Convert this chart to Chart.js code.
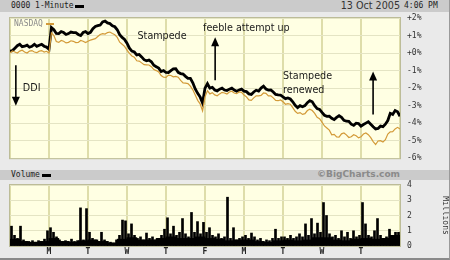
<!DOCTYPE html>
<html>
<head>
<meta charset="utf-8">
<script src="https://cdn.jsdelivr.net/npm/chart.js@4"></script>
<style>
  body { margin: 0; background: #fff; }
  #frame { position: relative; width: 450px; height: 260px; background: #eaeaea; overflow: hidden; }
  .bar { position: absolute; left: 0; width: 450px; background: #cbcbcb; }
  .mono { font-family: "DejaVu Sans Mono", monospace; font-size: 8px; color: #222; position: absolute; white-space: nowrap; }
  .dash { position: absolute; height: 3px; width: 9px; }
  canvas { position: absolute; left: 0; }
  #edge { position: absolute; left: 0; top: 0; width: 449px; height: 258px; border-right: 1px solid #9a9a9a; border-bottom: 2px solid #8a8a8a; pointer-events: none; }
</style>
</head>
<body>
<div id="frame">
  <div class="bar" style="top:0;height:12px"></div>
  <span class="mono" style="left:11px;top:1px">0000 1-Minute</span>
  <div class="dash" style="left:75px;top:5px;background:#000"></div>
  <span style="position:absolute;right:50px;top:0px;font:9.6px 'DejaVu Sans';color:#333">13 Oct 2005</span>
  <span class="mono" style="left:404px;top:1px">4:06 PM</span>

  <div class="bar" style="top:170px;height:10px"></div>
  <span class="mono" style="left:11px;top:170px">Volume</span>
  <div class="dash" style="left:42px;top:174px;background:#000"></div>
  <span style="position:absolute;right:50px;top:169px;font:bold 9px 'DejaVu Sans';color:#8a8a8a">©BigCharts.com</span>

  <canvas id="price" width="450" height="170" style="top:0"></canvas>
  <canvas id="vol" width="450" height="88" style="top:170px"></canvas>
  <div id="edge"></div>
</div>
<script>
"use strict";

const dayLabels = ['M', 'T', 'W', 'T', 'F', 'M', 'T', 'W', 'T'];

// % change, 16 readings per trading day (10 days)
const stockPct = [
    0.11, 0.14, 0.28, 0.42, 0.5, 0.36, 0.39, 0.45, 0.33, 0.38, 0.5, 0.38, 0.44, 0.5, 0.39, 0.34,
    0.22, 1.45, 1.33, 1.12, 1.11, 1.22, 1.17, 1.06, 1.11, 1.2, 1.17, 1.16, 1.06, 1.0, 1.17, 1.22,
    1.11, 1.18, 1.39, 1.52, 1.56, 1.6, 1.78, 1.82, 1.72, 1.68, 1.56, 1.5, 1.33, 1.05, 0.89, 0.78,
    0.56, 0.28, 0.11, 0.06, -0.11, -0.08, -0.22, -0.38, -0.44, -0.4, -0.5, -0.7, -0.78, -0.86, -1.06, -1.0,
    -1.11, -1.12, -1.0, -0.9, -0.89, -1.1, -1.17, -1.2, -1.33, -1.44, -1.44, -1.7, -2.05, -2.3, -2.5, -2.85,
    -2.0, -1.75, -2.0, -1.96, -2.11, -2.16, -2.06, -2.0, -2.11, -2.14, -2.06, -2.0, -2.11, -2.18, -2.11, -2.06,
    -2.17, -2.2, -2.33, -2.36, -2.22, -2.12, -2.17, -2.0, -1.89, -2.05, -2.11, -2.1, -2.22, -2.36, -2.39, -2.4,
    -2.5, -2.6, -2.56, -2.62, -2.78, -2.98, -3.11, -3.0, -3.06, -3.0, -2.83, -2.72, -2.78, -3.0, -3.17, -3.22,
    -3.39, -3.55, -3.61, -3.6, -3.72, -3.8, -3.67, -3.58, -3.67, -3.84, -3.89, -3.9, -4.06, -4.12, -4.0, -4.02,
    -4.17, -4.08, -4.0, -3.92, -4.06, -4.2, -4.33, -4.3, -4.17, -4.2, -4.06, -3.85, -3.44, -3.5, -3.28, -3.35,
    -3.61
];
const nasdaqPct = [
    0.0, 0.12, 0.06, 0.0, 0.11, 0.16, 0.06, 0.0, 0.11, 0.14, 0.06, 0.02, 0.11, 0.14, 0.06, 0.1,
    0.0, 1.15, 1.0, 0.66, 0.61, 0.72, 0.67, 0.58, 0.61, 0.7, 0.67, 0.6, 0.61, 0.72, 0.67, 0.6,
    0.67, 0.74, 0.78, 0.82, 0.94, 1.06, 1.11, 1.08, 1.17, 1.2, 1.11, 1.04, 0.89, 0.62, 0.5, 0.38,
    0.17, -0.02, -0.17, -0.24, -0.44, -0.46, -0.56, -0.66, -0.67, -0.68, -0.78, -0.94, -1.0, -1.08, -1.28, -1.38,
    -1.39, -1.26, -1.28, -1.36, -1.33, -1.38, -1.56, -1.7, -1.72, -1.74, -1.89, -2.1, -2.39, -2.7, -2.9, -3.3,
    -2.5, -2.15, -2.33, -2.26, -2.39, -2.44, -2.33, -2.24, -2.28, -2.34, -2.22, -2.18, -2.28, -2.32, -2.22, -2.24,
    -2.39, -2.5, -2.67, -2.7, -2.56, -2.44, -2.44, -2.42, -2.28, -2.3, -2.44, -2.44, -2.56, -2.7, -2.72, -2.68,
    -2.78, -2.92, -2.89, -2.92, -3.11, -3.32, -3.44, -3.4, -3.5, -3.46, -3.28, -3.2, -3.28, -3.44, -3.67, -3.74,
    -3.94, -4.16, -4.28, -4.4, -4.67, -4.64, -4.78, -4.8, -4.61, -4.56, -4.67, -4.82, -4.78, -4.66, -4.72, -4.84,
    -4.78, -4.62, -4.56, -4.66, -4.83, -5.05, -5.22, -5.02, -5.0, -5.08, -4.94, -4.62, -4.5, -4.48, -4.33, -4.24,
    -4.33
];
// volume in millions: peaks, 13 per day
const volumePeak = [
    1.3, 0.7, 0.5, 1.3, 0.4, 0.3, 0.25, 0.35, 0.25, 0.35, 0.3, 0.45, 1.0,
    1.2, 0.9, 0.6, 0.4, 0.3, 0.35, 0.3, 0.45, 0.3, 0.35, 2.5, 0.4, 2.45,
    0.9, 0.5, 0.4, 0.3, 0.9, 0.4, 0.3, 0.25, 0.2, 0.4, 0.7, 1.7, 1.65,
    0.8, 1.45, 0.7, 0.5, 0.6, 0.4, 0.85, 0.5, 0.6, 0.4, 0.5, 0.7, 1.1,
    1.85, 0.8, 1.3, 0.7, 0.9, 1.8, 0.8, 0.6, 2.2, 0.9, 1.6, 0.8, 1.55,
    0.9, 1.2, 0.7, 0.6, 0.8, 0.5, 0.6, 3.2, 0.5, 1.2, 0.4, 0.5, 0.6,
    0.7, 0.5, 0.85, 0.6, 0.4, 0.5, 0.3, 0.4, 0.35, 0.5, 1.1, 0.5, 0.6,
    0.6, 0.5, 0.7, 0.5, 0.6, 0.8, 0.6, 1.45, 0.7, 1.8, 0.8, 1.5, 0.9,
    2.85, 2.0, 0.8, 0.6, 0.7, 0.5, 1.0, 0.6, 0.9, 0.5, 1.0, 0.6, 0.7,
    2.85, 1.45, 0.7, 0.6, 1.0, 1.8, 0.7, 0.5, 0.6, 1.1, 0.7, 0.9, 0.9
];
// typical level, 4 per day
const volumeBase = [
    0.45, 0.3, 0.25, 0.3,
    0.5, 0.3, 0.25, 0.35,
    0.4, 0.3, 0.2, 0.45,
    0.55, 0.4, 0.4, 0.5,
    0.6, 0.5, 0.5, 0.6,
    0.5, 0.45, 0.35, 0.4,
    0.4, 0.3, 0.25, 0.35,
    0.4, 0.35, 0.4, 0.55,
    0.55, 0.4, 0.35, 0.45,
    0.5, 0.45, 0.5, 0.7
];

// annotations (day, %)
const noteTexts = [
    { text: 'DDI', x: 0.33, y: -2.0 },
    { text: 'Stampede', x: 3.27, y: 0.94 },
    { text: 'feeble attempt up', x: 4.95, y: 1.39 },
    { text: 'Stampede', x: 7.0, y: -1.33 },
    { text: 'renewed', x: 7.0, y: -2.11 }
];
const noteArrows = [
    { x: 0.15, from: -0.7, to: -3.0 },
    { x: 5.26, from: -1.55, to: 0.9 },
    { x: 9.31, from: -3.5, to: -1.05 }
];

const gridV = '#deddaa';
const gridH = '#e4e4c4';
const plotFill = '#ffffe3';

const drawArrow = (ctx, x, y0, y1) => {
    const dir = y1 > y0 ? 1 : -1;
    ctx.beginPath();
    ctx.moveTo(x, y0);
    ctx.lineTo(x, y1 - dir * 8);
    ctx.stroke();
    ctx.beginPath();
    ctx.moveTo(x - 4, y1 - dir * 9);
    ctx.lineTo(x + 4, y1 - dir * 9);
    ctx.lineTo(x, y1);
    ctx.closePath();
    ctx.fill();
}

const plotBg = {
    id: 'plotBg',
    beforeDraw: (chart) => {
        const { ctx, chartArea: a } = chart;
        ctx.save();
        ctx.fillStyle = plotFill;
        ctx.fillRect(a.left, a.top, a.width, a.height);
        ctx.restore();
    },
    afterDraw: (chart) => {
        const { ctx, chartArea: a } = chart;
        ctx.save();
        ctx.strokeStyle = '#bcbc98';
        ctx.lineWidth = 1;
        ctx.strokeRect(a.left - 0.5, a.top - 0.5, a.width + 1, a.height + 1);
        ctx.restore();
    }
};

const notes = {
    id: 'notes',
    afterDatasetsDraw: (chart) => {
        const { ctx, chartArea: a, scales: { x, y } } = chart;
        ctx.save();
        ctx.fillStyle = '#1a1a1a';
        ctx.strokeStyle = '#000';
        ctx.lineWidth = 1.6;
        ctx.font = '9.6px "DejaVu Sans"';
        ctx.textBaseline = 'middle';
        noteTexts.forEach(n => ctx.fillText(n.text, x.getPixelForValue(n.x), y.getPixelForValue(n.y)));
        ctx.fillStyle = '#000';
        noteArrows.forEach(n => drawArrow(ctx, x.getPixelForValue(n.x), y.getPixelForValue(n.from), y.getPixelForValue(n.to)));

        // legend for the index line
        ctx.font = '8px "DejaVu Sans Mono"';
        ctx.fillStyle = '#8a8a8a';
        ctx.fillText('NASDAQ', a.left + 4, a.top + 6);
        ctx.fillStyle = '#d39a38';
        ctx.fillRect(a.left + 36, a.top + 5, 8, 2);
        ctx.restore();
    }
};

const tickFont = { family: 'DejaVu Sans Mono', size: 8 };

document.addEventListener("DOMContentLoaded", () => {
    new Chart(document.getElementById('price'), {
        type: 'line',
        data: {
            datasets: [{
                label: 'NASDAQ',
                data: nasdaqPct.map((v, i) => ({ x: i / 16, y: v })),
                borderColor: '#d39a38',
                borderWidth: 1.2,
                pointRadius: 0
            }, {
                label: '0000',
                data: stockPct.map((v, i) => ({ x: i / 16, y: v })),
                borderColor: '#000',
                borderWidth: 2.8,
                pointRadius: 0
            }]
        },
        options: {
            responsive: false,
            animation: false,
            devicePixelRatio: 1,
            layout: { padding: { left: 10, top: 18, bottom: 8, right: 0 } },
            plugins: { legend: { display: false }, tooltip: { enabled: false } },
            scales: {
                x: {
                    type: 'linear', min: 0, max: 10,
                    ticks: { display: false, stepSize: 1 },
                    grid: { color: gridV, lineWidth: 2, drawTicks: false },
                    border: { display: false },
                    afterFit: (s) => { s.height = 0; }
                },
                y: {
                    position: 'right', min: -6, max: 2,
                    ticks: {
                        stepSize: 1, padding: 7, color: '#333', font: tickFont,
                        callback: v => (v >= 0 ? '+' : '') + v + '%'
                    },
                    grid: { color: gridH, drawTicks: false },
                    border: { display: false },
                    afterFit: (s) => { s.width = 50; }
                }
            }
        },
        plugins: [plotBg, notes]
    });

    new Chart(document.getElementById('vol'), {
        type: 'bar',
        data: {
            datasets: [{
                label: 'Volume',
                data: volumePeak.map((v, i) => ({ x: (i + 0.5) / 13, y: v })),
                backgroundColor: '#000',
                barThickness: 2,
                grouped: false
            }, {
                label: 'Volume level',
                data: volumeBase.map((v, i) => ({ x: (i + 0.5) / 4, y: v })),
                backgroundColor: '#000',
                barThickness: 10,
                grouped: false
            }]
        },
        options: {
            responsive: false,
            animation: false,
            devicePixelRatio: 1,
            layout: { padding: { left: 10, top: 15, bottom: 0, right: 0 } },
            plugins: { legend: { display: false }, tooltip: { enabled: false } },
            scales: {
                x: {
                    type: 'linear', min: 0, max: 10, offset: false,
                    ticks: {
                        stepSize: 1, padding: 1, autoSkip: false, maxRotation: 0, color: '#222',
                        font: { family: 'DejaVu Sans Mono', size: 8, weight: 'bold' },
                        callback: v => dayLabels[v - 1] || ''
                    },
                    grid: { color: gridV, lineWidth: 2, drawTicks: false, offset: false },
                    border: { display: false },
                    afterFit: (s) => { s.height = 12; }
                },
                y: {
                    position: 'right', min: 0, max: 4,
                    ticks: { stepSize: 1, padding: 7, color: '#333', font: tickFont },
                    grid: { color: gridH, drawTicks: false },
                    border: { display: false },
                    title: {
                        display: true, text: 'Millions', color: '#333',
                        font: tickFont, padding: { top: 0, bottom: 8 }
                    },
                    afterFit: (s) => { s.width = 50; }
                }
            }
        },
        plugins: [plotBg]
    });
});
</script>
</body>
</html>
